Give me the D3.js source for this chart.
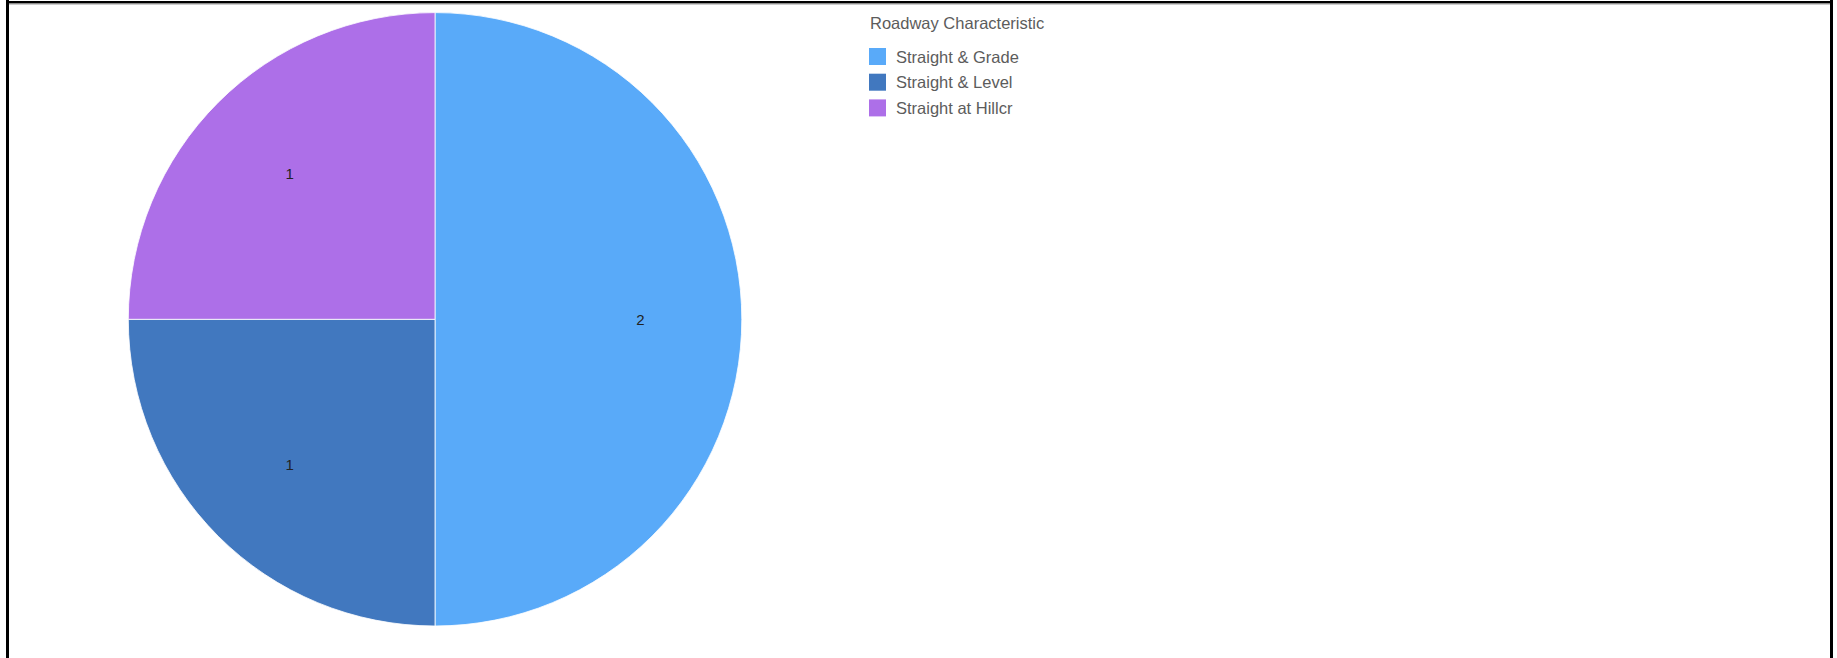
<!DOCTYPE html>
<html>
<head>
<meta charset="utf-8">
<script src="https://cdn.jsdelivr.net/npm/d3@7"></script>
<style>
  html, body { margin: 0; padding: 0; background: #fff; }
  svg { display: block; }
</style>
</head>
<body>
<svg id="chart" width="1837" height="658"></svg>
<script>
const categories = ["Straight & Grade", "Straight & Level", "Straight at Hillcr"];
const values = [2, 1, 1];
const colors = ["#59aaf9", "#4178bf", "#ad6fe8"];
const legendTitle = "Roadway Characteristic";

const data = categories.map((c, i) => ({ category: c, value: values[i] }));

const svg = d3.select("#chart");
const W = 1837, H = 658;

// frame
svg.append("rect").attr("x", 6).attr("y", 0).attr("width", 3).attr("height", H).attr("fill", "#000");
svg.append("rect").attr("x", 1830).attr("y", 0).attr("width", 3).attr("height", H).attr("fill", "#000");
svg.append("rect").attr("x", 9).attr("y", 1).attr("width", 1821).attr("height", 2.5).attr("fill", "#000");
svg.append("rect").attr("x", 9).attr("y", 3.5).attr("width", 1821).attr("height", 1).attr("fill", "#999");

const cx = 435, cy = 319.3, r = 306.7;
const color = d3.scaleOrdinal().domain(categories).range(colors);

const pie = d3.pie().sort(null).value(d => d.value);
const arc = d3.arc().innerRadius(0).outerRadius(r);
const labelArc = d3.arc().innerRadius(r * 0.34).outerRadius(r);

const g = svg.append("g").attr("transform", `translate(${cx},${cy})`);
const arcs = pie(data);

g.selectAll("path.slice")
  .data(arcs)
  .join("path")
  .attr("class", "slice")
  .attr("d", arc)
  .attr("fill", d => color(d.data.category))
  .attr("stroke", "rgba(255,255,255,0.8)")
  .attr("stroke-width", 1);

g.selectAll("text.lbl")
  .data(arcs)
  .join("text")
  .attr("class", "lbl")
  .attr("transform", d => `translate(${labelArc.centroid(d)})`)
  .attr("text-anchor", "middle")
  .attr("dy", "0.35em")
  .attr("font-family", "Liberation Sans, Arial, sans-serif")
  .attr("font-size", 15)
  .attr("fill", "#222")
  .text(d => d.data.value);

// legend
const lg = svg.append("g").attr("transform", "translate(869,0)");
lg.append("text")
  .attr("x", 1).attr("y", 29)
  .attr("font-family", "Liberation Sans, Arial, sans-serif")
  .attr("font-size", 16.5)
  .attr("fill", "#5c5c5c")
  .text(legendTitle);

const items = lg.selectAll("g.item")
  .data(categories)
  .join("g")
  .attr("class", "item")
  .attr("transform", (d, i) => `translate(0,${48 + i * 25.7})`);

items.append("rect")
  .attr("x", 0).attr("y", 0)
  .attr("width", 17).attr("height", 17)
  .attr("fill", d => color(d));

items.append("text")
  .attr("x", 27).attr("y", 14.5)
  .attr("font-family", "Liberation Sans, Arial, sans-serif")
  .attr("font-size", 16.5)
  .attr("fill", "#5c5c5c")
  .text(d => d);
</script>
</body>
</html>
